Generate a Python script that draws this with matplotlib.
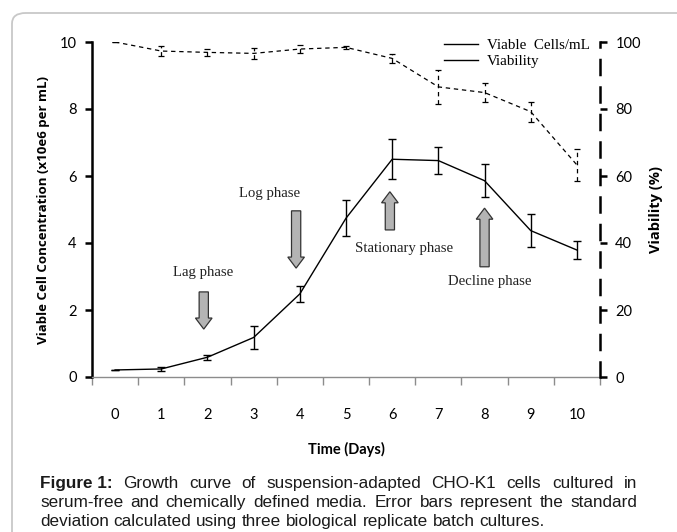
import matplotlib
matplotlib.use("Agg")
import matplotlib.pyplot as plt
from matplotlib.patches import FancyArrow, FancyBboxPatch
from matplotlib.lines import Line2D
import numpy as np

# ---- data ----
days = [0, 1, 2, 3, 4, 5, 6, 7, 8, 9, 10]
viable = [0.21, 0.24, 0.59, 1.18, 2.48, 4.74, 6.50, 6.46, 5.86, 4.37, 3.79]
viable_err = [0.0, 0.06, 0.08, 0.35, 0.25, 0.54, 0.60, 0.41, 0.49, 0.49, 0.27]
viability = [100.0, 97.3, 96.9, 96.6, 97.9, 98.4, 95.1, 86.6, 84.9, 79.2, 63.3]
viability_err = [0.0, 1.4, 1.1, 1.6, 1.2, 0.5, 1.4, 5.1, 2.8, 3.0, 4.9]
left_ticks = [0, 2, 4, 6, 8, 10]
right_ticks = [0, 20, 40, 60, 80, 100]
phase_labels = ["Lag phase", "Log phase", "Stationary phase", "Decline phase"]
phase_text_xy = [(1.90, 3.13), (3.35, 5.48), (6.25, 3.84), (8.11, 2.84)]
phase_arrow_start = [(1.92, 2.54), (3.92, 4.96), (5.95, 4.39), (8.00, 3.29)]
phase_arrow_end = [(1.92, 1.43), (3.92, 3.25), (5.95, 5.53), (8.00, 5.04)]
caption_lines = [
    "Growth curve of suspension-adapted CHO-K1 cells cultured in",
    "serum-free and chemically defined media. Error bars represent the standard",
    "deviation calculated using three biological replicate batch cultures.",
]

W, H = 677, 532
fig = plt.figure(figsize=(W / 100, H / 100), dpi=100)

# rounded border
border = FancyBboxPatch((12 / W, -0.2), 1.2, 1.2 - 13 / H, boxstyle="round,pad=0,rounding_size=0.02",
                        transform=fig.transFigure, fill=False, edgecolor="#c8c8c8", linewidth=1.3)
fig.patches.append(border)

ax = fig.add_axes([92 / W, 1 - 377 / H, 508 / W, 335 / H])
tick_font = "Lato"

# viable cells
ax.errorbar(days, viable, yerr=viable_err, color="black", linewidth=1.0, elinewidth=1.0,
            capsize=3, capthick=1.0)
ax.set_xlim(-0.5, 10.5)
ax.set_ylim(0, 10)

ax.set_xticks(days)
ax.set_xticklabels([str(d) for d in days], fontfamily=tick_font, fontsize=10.5)
ax.tick_params(axis="x", which="major", length=0, pad=22)
ax.set_xticks(np.arange(-0.5, 11.0, 1.0), minor=True)
ax.tick_params(axis="x", which="minor", length=6, width=1, color="#8c8c8c", direction="out")

ax.set_yticks(left_ticks)
ax.set_yticklabels([str(t) for t in left_ticks], fontfamily=tick_font, fontsize=10.5)
ax.tick_params(axis="y", length=5, width=1.8, direction="out", pad=6)

ax.spines["top"].set_visible(False)
ax.spines["right"].set_visible(False)
ax.spines["bottom"].set_color("#8c8c8c")
ax.spines["bottom"].set_linewidth(1.0)
ax.spines["left"].set_linewidth(1.8)

ax.set_xlabel("Time (Days)", fontfamily=tick_font, fontweight="bold", fontsize=10.5, labelpad=15)
ax.set_ylabel("Viable Cell Concentration (x10e6 per mL)", fontfamily="Open Sans", fontweight="bold",
              fontsize=9.5, labelpad=7)

# viability on right axis
ax2 = ax.twinx()
dash = (0, (3.5, 3.0))
eb = ax2.errorbar(days, viability, yerr=viability_err, color="black", linewidth=0.9, elinewidth=0.9,
                  capsize=2.5, capthick=0.9, linestyle=dash)
for coll in eb[2]:
    coll.set_linestyle(dash)
ax2.set_ylim(0, 100)
ax2.set_yticks(right_ticks)
ax2.set_yticklabels([str(t) for t in right_ticks], fontfamily=tick_font, fontsize=10.5)
ax2.tick_params(axis="y", length=5, width=1.8, direction="out", pad=6)
for s in ["top", "left", "bottom"]:
    ax2.spines[s].set_visible(False)
ax2.spines["right"].set_linestyle((0, (6, 5)))
ax2.spines["right"].set_linewidth(1.8)
ax2.set_ylabel("Viability (%)", fontfamily="Open Sans", fontweight="bold", fontsize=10.5, labelpad=6)

# legend (both solid, as in original)
handles = [Line2D([], [], color="black", linewidth=1.0), Line2D([], [], color="black", linewidth=1.0)]
leg = ax.legend(handles, ["Viable  Cells/mL", "Viability"], loc="upper left",
                bbox_to_anchor=(338 / 508, 1.05), frameon=False,
                prop={"family": "Liberation Serif", "size": 10.8}, handlelength=2.3,
                handletextpad=0.6, labelspacing=0.15)

# phase annotations
for lab, (tx, ty) in zip(phase_labels, phase_text_xy):
    ax.text(tx, ty, lab, ha="center", va="center", fontfamily="Liberation Serif", fontsize=10.6,
            color="#222222", zorder=5)
for (x0, y0), (x1, y1) in zip(phase_arrow_start, phase_arrow_end):
    dy = y1 - y0
    arr = FancyArrow(x0, y0, 0, dy, width=0.2, head_width=0.36, head_length=0.33,
                     length_includes_head=True, facecolor="#b4b4b4", edgecolor="#333333",
                     linewidth=0.9, zorder=4)
    ax.add_patch(arr)

# caption with justification
renderer = fig.canvas.get_renderer()
cap_left, cap_right = 40, 637
line_base = [488, 507, 526]

def word_width(s, size, weight="normal"):
    t = fig.text(0, 0, s, fontfamily="Liberation Sans", fontsize=size, fontweight=weight)
    w = t.get_window_extent(renderer).width
    t.remove()
    return w

# choose caption size so that the second (nearly natural) line fills the width
natural = word_width(caption_lines[1], 10)
cap_size = 10 * 580 / natural

lines_words = [[("Figure 1:", "bold")] + [(w, "normal") for w in caption_lines[0].split()],
               [(w, "normal") for w in caption_lines[1].split()],
               [(w, "normal") for w in caption_lines[2].split()]]
space_w = word_width("a b", cap_size) - word_width("ab", cap_size)
for i, words in enumerate(lines_words):
    widths = [word_width(w, cap_size, wt) for w, wt in words]
    if i < 2:
        gap = (cap_right - cap_left - sum(widths)) / (len(words) - 1)
    else:
        gap = space_w
    x = cap_left
    for (w, wt), ww in zip(words, widths):
        fig.text(x / W, 1 - line_base[i] / H, w, fontfamily="Liberation Sans", fontsize=cap_size,
                 fontweight=wt, ha="left", va="baseline", color="#1a1a1a")
        x += ww + gap

fig.savefig("out.png", dpi=100)
